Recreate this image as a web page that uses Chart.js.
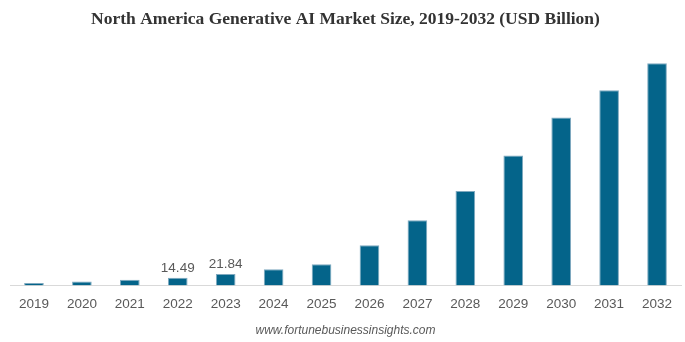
<!DOCTYPE html>
<html>
<head>
<meta charset="utf-8">
<script src="https://cdn.jsdelivr.net/npm/chart.js@4.4.0/dist/chart.umd.min.js"></script>
<style>
  html, body { margin: 0; padding: 0; background: #fff; }
  #wrap { width: 685px; height: 342px; }
</style>
</head>
<body>
<div id="wrap"><canvas id="market-chart"></canvas></div>
<script>
const years = ['2019', '2020', '2021', '2022', '2023', '2024', '2025', '2026', '2027', '2028', '2029', '2030', '2031', '2032'];
const marketSize = [4.6, 7.7, 11.0, 14.49, 21.84, 30.9, 40.5, 77, 125, 181, 249, 322, 374, 426];
const labelledYears = ['2022', '2023'];

const valueLabels = {
    id: 'valueLabels',
    afterDatasetsDraw(chart) {
        const ctx = chart.ctx;
        const meta = chart.getDatasetMeta(0);
        ctx.save();
        ctx.font = '13.5px "Liberation Sans", Arial, sans-serif';
        ctx.fillStyle = '#595959';
        ctx.textAlign = 'center';
        ctx.textBaseline = 'bottom';
        meta.data.forEach((bar, i) => {
            if (!labelledYears.includes(years[i]))
                return;
            ctx.fillText(marketSize[i].toFixed(2), bar.x, bar.y - 3);
        });
        ctx.restore();
    }
};

new Chart(document.getElementById('market-chart'), {
    type: 'bar',
    data: {
        labels: years,
        datasets: [{
            data: marketSize,
            backgroundColor: '#04648a',
            borderColor: '#7fa9bf',
            borderWidth: { top: 1, left: 1, right: 1, bottom: 0 },
            categoryPercentage: 1,
            barPercentage: 0.41,
        }]
    },
    options: {
        responsive: true,
        maintainAspectRatio: false,
        animation: false,
        layout: { padding: { left: 10, right: 4, top: 0, bottom: 0 } },
        plugins: {
            legend: { display: false },
            tooltip: { enabled: false },
            title: {
                display: true,
                text: 'North America Generative AI Market Size, 2019-2032 (USD Billion)',
                color: '#333333',
                font: { family: '"Liberation Serif", "Times New Roman", serif', size: 17.5, weight: 'bold' },
                padding: { top: 9, bottom: 18 }
            },
            subtitle: {
                display: true,
                position: 'bottom',
                text: 'www.fortunebusinessinsights.com',
                color: '#595959',
                font: { family: '"Liberation Sans", Arial, sans-serif', size: 12, style: 'italic' },
                padding: { top: 0, bottom: 4 }
            }
        },
        scales: {
            x: {
                grid: { display: false, drawTicks: false },
                border: { color: '#d9d9d9', width: 1 },
                ticks: {
                    color: '#595959',
                    font: { family: '"Liberation Sans", Arial, sans-serif', size: 13.5 },
                    padding: 11,
                    maxRotation: 0,
                    autoSkip: false
                }
            },
            y: {
                display: false,
                min: 0,
                max: 455
            }
        }
    },
    plugins: [valueLabels]
});
</script>
</body>
</html>
